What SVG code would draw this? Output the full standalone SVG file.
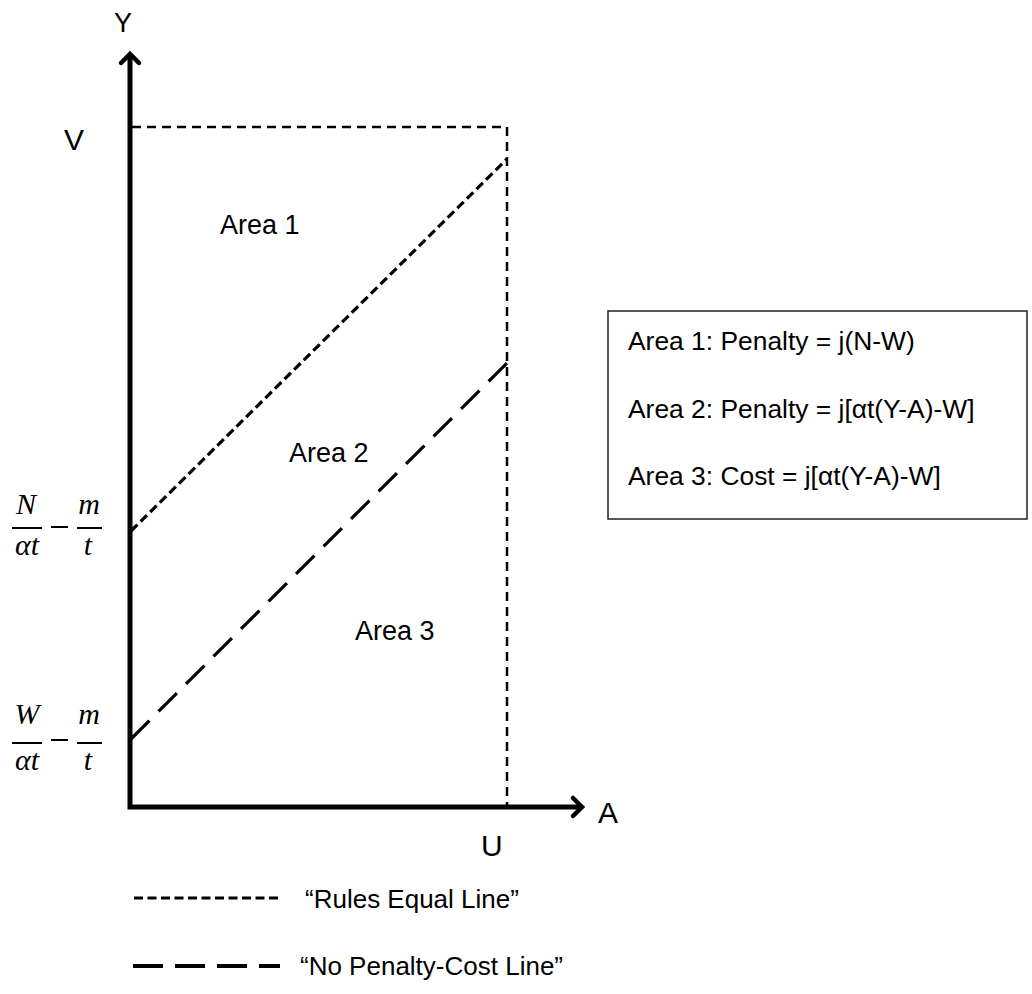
<svg xmlns="http://www.w3.org/2000/svg" width="1032" height="994" viewBox="0 0 1032 994">
<style>
.t{font-family:"Liberation Sans",Arial,sans-serif;fill:#000}
.m{font-family:"Liberation Serif","Times New Roman",serif;font-style:italic;fill:#000;font-size:30px}
.bar{stroke:#000;stroke-width:2}
.axis{stroke:#000;stroke-width:5;fill:none}
.head{stroke:#000;stroke-width:4.5;fill:none;stroke-linecap:round;stroke-linejoin:miter}
.bound{stroke:#000;stroke-width:2.5;fill:none;stroke-dasharray:9 6}
.rules{stroke:#000;stroke-width:3.2;fill:none;stroke-dasharray:9 4.5}
.nopen{stroke:#000;stroke-width:3.2;fill:none;stroke-dasharray:26 12.9}
</style>
<rect width="1032" height="994" fill="#fff"/>
<g id="connectors">
<path class="bound" d="M132 127 H507 V805"/>
<line class="rules" x1="131" y1="531" x2="507" y2="159"/>
<line class="nopen" x1="131" y1="739" x2="507" y2="363"/>
<path class="axis" d="M130 57 V807 H580"/>
<path class="head" d="M121 63 L130 54 L139 63"/>
<path class="head" d="M573 798 L582 807 L573 816"/>
</g>
<g id="axis-labels">
<text class="t" x="114" y="32" font-size="27">Y</text>
<text class="t" x="598" y="823" font-size="30">A</text>
<text class="t" x="64" y="150" font-size="30">V</text>
<text class="t" x="481" y="856" font-size="30">U</text>
</g>
<g id="area1"><text class="t" x="220" y="234" font-size="27">Area 1</text></g>
<g id="area2"><text class="t" x="289" y="462" font-size="27">Area 2</text></g>
<g id="area3"><text class="t" x="355" y="640" font-size="27">Area 3</text></g>
<g id="frac-n">
<text class="m" x="26" y="514" text-anchor="middle">N</text>
<line class="bar" x1="12" y1="528" x2="42" y2="528"/>
<text class="m" x="27" y="555" text-anchor="middle">αt</text>
<line class="bar" x1="51" y1="527" x2="68" y2="527"/>
<text class="m" x="89" y="514" text-anchor="middle">m</text>
<line class="bar" x1="77" y1="528" x2="102" y2="528"/>
<text class="m" x="88" y="555" text-anchor="middle">t</text>
</g>
<g id="frac-w">
<text class="m" x="27" y="724" text-anchor="middle">W</text>
<line class="bar" x1="12" y1="743" x2="42" y2="743"/>
<text class="m" x="27" y="770" text-anchor="middle">αt</text>
<line class="bar" x1="51" y1="740" x2="68" y2="740"/>
<text class="m" x="89" y="724" text-anchor="middle">m</text>
<line class="bar" x1="77" y1="743" x2="102" y2="743"/>
<text class="m" x="88" y="770" text-anchor="middle">t</text>
</g>
<g id="legend-box">
<rect x="608" y="311" width="419" height="208" fill="#fff" stroke="#222" stroke-width="1.5"/>
<text class="t" x="628" y="350" font-size="26.4">Area 1: Penalty = j(N-W)</text>
<text class="t" x="628" y="418" font-size="26.4">Area 2: Penalty = j[αt(Y-A)-W]</text>
<text class="t" x="628" y="485" font-size="26.4">Area 3: Cost = j[αt(Y-A)-W]</text>
</g>
<g id="legend-rules">
<line class="rules" x1="134" y1="898" x2="282" y2="898"/>
<text class="t" x="305" y="908" font-size="26">“Rules Equal Line”</text>
</g>
<g id="legend-nopen">
<line x1="133" y1="966" x2="280" y2="966" stroke="#000" stroke-width="4" stroke-dasharray="30 12"/>
<text class="t" x="300" y="975" font-size="26">“No Penalty-Cost Line”</text>
</g>
</svg>
